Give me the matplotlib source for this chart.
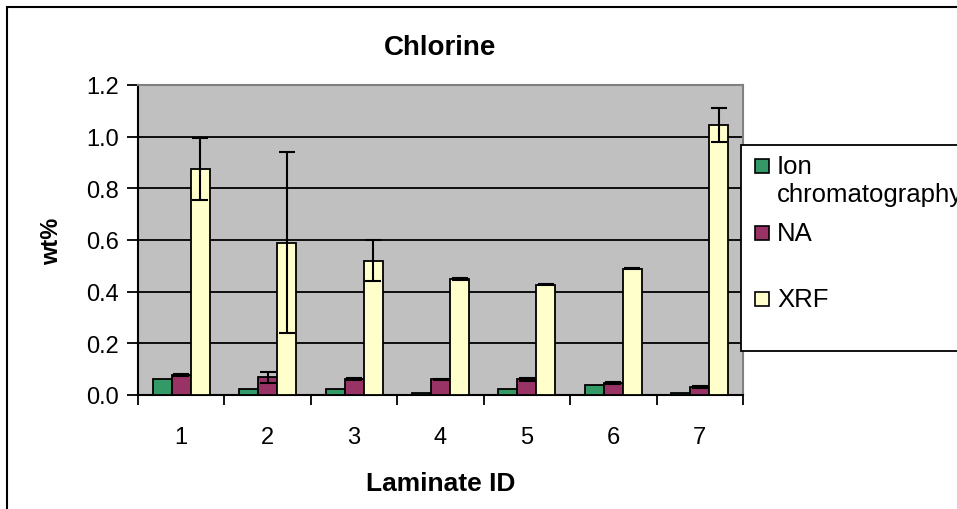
import matplotlib.pyplot as plt
import numpy as np
from matplotlib.patches import Rectangle

plt.rcParams['font.family'] = ['Liberation Sans', 'DejaVu Sans']

# Chlorine content per laminate, three methods
laminates = ["1", "2", "3", "4", "5", "6", "7"]
ion_chrom = [0.061, 0.022, 0.022, 0.006, 0.022, 0.040, 0.006]
na_vals = [0.077, 0.068, 0.062, 0.061, 0.061, 0.045, 0.031]
na_err = [0.003, 0.020, 0.002, 0.002, 0.005, 0.004, 0.002]
xrf_vals = [0.875, 0.590, 0.520, 0.449, 0.426, 0.488, 1.046]
xrf_err = [0.120, 0.350, 0.080, 0.002, 0.002, 0.002, 0.065]
series_names = ["Ion\nchromatography", "NA", "XRF"]
series_colors = ["#339966", "#993366", "#FFFFCC"]

W, H = 957, 510
fig = plt.figure(figsize=(W / 100, H / 100), dpi=100)
ax = fig.add_axes([138/W, 1 - 396/H, (743 - 138)/W, (396 - 86)/H])
ax.set_facecolor('#C0C0C0')

x = np.arange(1, len(laminates) + 1)
w = 0.22
err_kw = dict(ecolor='black', capsize=6, elinewidth=1.5, capthick=1.5)
ax.bar(x - w, ion_chrom, w, color=series_colors[0], edgecolor='black', linewidth=1.3, zorder=3)
ax.bar(x, na_vals, w, yerr=na_err, color=series_colors[1], edgecolor='black', linewidth=1.3,
       error_kw=err_kw, zorder=3)
ax.bar(x + w, xrf_vals, w, yerr=xrf_err, color=series_colors[2], edgecolor='black', linewidth=1.3,
       error_kw=err_kw, zorder=3)

ax.set_ylim(0, 1.2)
ax.set_xlim(0.5, 7.5)
yt = np.arange(0, 1.21, 0.2)
ax.set_yticks(yt)
ax.set_yticklabels([f"{v:.1f}" for v in yt])
ax.yaxis.grid(True, color='black', linewidth=1.3, zorder=1)
ax.set_axisbelow(True)

ax.set_xticks(x)
ax.set_xticklabels(laminates)
ax.set_xticks(np.arange(0.5, 7.6, 1), minor=True)
ax.tick_params(axis='x', which='major', length=0, pad=22, labelsize=17)
ax.tick_params(axis='x', which='minor', length=7, width=1.3, direction='out')
ax.tick_params(axis='y', length=8, width=1.3, direction='out', labelsize=17, pad=6)

for side in ['top', 'right']:
    ax.spines[side].set_color('#808080')
    ax.spines[side].set_linewidth(1.5)
for side in ['left', 'bottom']:
    ax.spines[side].set_color('black')
    ax.spines[side].set_linewidth(1.5)

ax.set_xlabel('Laminate ID', fontsize=19, fontweight='bold', labelpad=17)
ax.set_ylabel('wt%', fontsize=17, fontweight='bold', labelpad=16)
ax.set_title('Chlorine', fontsize=20, fontweight='bold', pad=22)

# legend box, runs off the right edge of the chart
fig.patches.append(Rectangle((741/W, 1 - 352/H), 0.5, (352 - 146)/H, transform=fig.transFigure,
                             facecolor='white', edgecolor='black', linewidth=1.3, zorder=5))
legend_rows = [167, 234, 300]
for name, color, row in zip(series_names, series_colors, legend_rows):
    fig.patches.append(Rectangle((755/W, 1 - (row + 7)/H), 14/W, 14/H, transform=fig.transFigure,
                                 facecolor=color, edgecolor='black', linewidth=1.2, zorder=6))
    fig.text(777/W, 1 - (row - 12)/H, name, fontsize=18.5, va='top', ha='left',
             linespacing=1.2, zorder=6)

# chart border
fig.patches.append(Rectangle((7/W, -0.1), 1.2, 1 - 8/H + 0.1, transform=fig.transFigure,
                             fill=False, edgecolor='black', linewidth=1.5))

fig.savefig('out.png', dpi=100)
